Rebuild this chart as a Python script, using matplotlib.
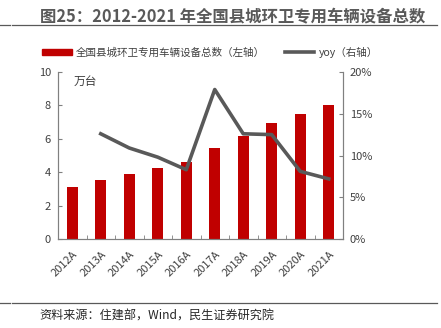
import matplotlib
matplotlib.use("Agg")
import matplotlib.pyplot as plt
from matplotlib.lines import Line2D
from matplotlib.patches import Patch
from matplotlib.ticker import FuncFormatter, FixedLocator

plt.rcParams['font.family'] = ['Noto Sans CJK SC', 'DejaVu Sans']

# Данные
years = ["2012A", "2013A", "2014A", "2015A", "2016A",
         "2017A", "2018A", "2019A", "2020A", "2021A"]
vehicles = [3.11, 3.51, 3.89, 4.27, 4.61, 5.47, 6.15, 6.93, 7.49, 8.02]
yoy_years = years[1:]
yoy = [12.6, 10.9, 9.8, 8.3, 17.9, 12.6, 12.5, 8.1, 7.2]

bar_color = "#C00000"
line_color = "#595959"
axis_color = "#808080"
text_color = "#404040"

fig = plt.figure(figsize=(4.41, 3.28), dpi=100)
ax = fig.add_axes([58 / 441, 89 / 328, 285 / 441, 167 / 328])
ax2 = ax.twinx()

x = list(range(len(years)))
ax.bar(x, vehicles, width=0.4, color=bar_color, zorder=2)
ax2.plot([years.index(y) for y in yoy_years], yoy, color=line_color,
         linewidth=2.6, solid_joinstyle="round", zorder=3)

ax.set_xlim(-0.5, len(years) - 0.5)
ax.set_ylim(0, 10)
ax2.set_ylim(0, 20)
ax.set_yticks([0, 2, 4, 6, 8, 10])
ax2.set_yticks([0, 5, 10, 15, 20])
ax2.yaxis.set_major_formatter(FuncFormatter(lambda v, p: f"{v:.0f}%"))

ax.set_xticks(x)
ax.set_xticklabels(years, rotation=45, ha="right", rotation_mode="anchor")
ax.xaxis.set_minor_locator(FixedLocator([i + 0.5 for i in range(-1, len(years))]))
ax.tick_params(axis="x", which="major", length=0, pad=7, labelsize=8,
               labelcolor=text_color)
ax.tick_params(axis="x", which="minor", direction="in", length=3,
               color=axis_color)
ax.tick_params(axis="y", direction="in", length=3, color=axis_color,
               labelsize=8, labelcolor=text_color, pad=5)
ax2.tick_params(axis="y", direction="in", length=3, color=axis_color,
                labelsize=8, labelcolor=text_color, pad=5)

for a in (ax, ax2):
    a.spines["top"].set_visible(False)
    for s in ("left", "right", "bottom"):
        a.spines[s].set_color(axis_color)
        a.spines[s].set_linewidth(0.8)

ax.text(0.055, 0.945, "万台", transform=ax.transAxes, fontsize=8.5,
        color=text_color, va="center")

# Заголовок и линии
fig.text(40 / 441, 1 - 17 / 328, "图25：2012-2021 年全国县城环卫专用车辆设备总数",
         fontsize=11.8, fontweight="bold", color="#595959", va="center")
for yy in (25, 303):
    fig.add_artist(Line2D([0, 10 / 441], [1 - yy / 328] * 2, color=line_color, lw=0.9))
    fig.add_artist(Line2D([12 / 441, 437 / 441], [1 - yy / 328] * 2, color=line_color, lw=0.9))

fig.text(39 / 441, 1 - 316 / 328, "资料来源：住建部，Wind，民生证券研究院",
         fontsize=8.7, color="#262626", va="center")

# Легенда
handles = [Patch(color=bar_color), Line2D([], [], color=line_color, lw=2.6)]
labels = ["全国县城环卫专用车辆设备总数（左轴）", "yoy（右轴）"]
fig.legend(handles, labels, loc="center", bbox_to_anchor=(210 / 441, 1 - 52 / 328),
           ncol=2, frameon=False, fontsize=7.6, handlelength=2.8,
           handleheight=0.5, columnspacing=1.9, handletextpad=0.4,
           labelcolor=text_color)

fig.savefig("out.png", dpi=100)
